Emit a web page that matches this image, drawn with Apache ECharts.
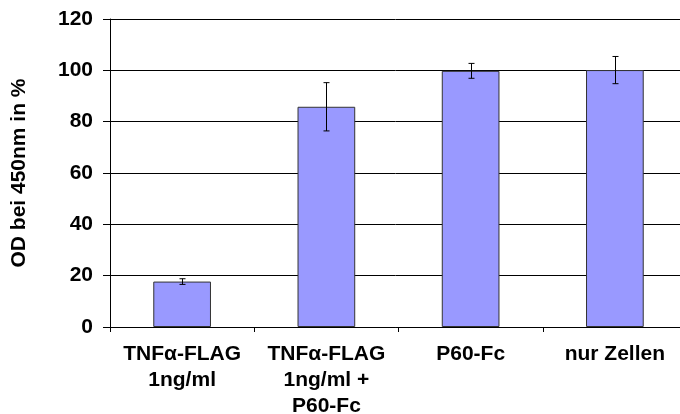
<!DOCTYPE html>
<html>
<head>
<meta charset="utf-8">
<script src="https://cdn.jsdelivr.net/npm/echarts@6/dist/echarts.min.js"></script>
<style>html,body{margin:0;padding:0;background:#fff}#c{width:680px;height:414px}</style>
</head>
<body>
<div id="c"></div>
<script>
var categories = ['TNF\u03b1-FLAG\n1ng/ml', 'TNF\u03b1-FLAG\n1ng/ml +\nP60-Fc', 'P60-Fc', 'nur Zellen'];
var values = [17.7, 85.8, 99.8, 100.1];
var errors = [1.1, 9.4, 2.9, 5.3];
var yTicks = [0, 20, 40, 60, 80, 100, 120];

var font = 'Liberation Sans, Arial, sans-serif';
var chart = echarts.init(document.getElementById('c'));
chart.setOption({
  animation: false,
  grid: { left: 110, top: 19, width: 577, bottom: 87, outerBoundsMode: 'none', containLabel: false },
  xAxis: {
    type: 'category',
    data: categories,
    axisLine: { lineStyle: { color: '#000', width: 1 } },
    axisTick: { show: true, length: 5, lineStyle: { color: '#000' }, alignWithLabel: false },
    axisLabel: { color: '#000', fontFamily: font, fontWeight: 'bold', fontSize: 21, lineHeight: 26, margin: 14, interval: 0 }
  },
  yAxis: {
    type: 'value',
    min: yTicks[0], max: yTicks[yTicks.length - 1], interval: 20,
    name: 'OD bei 450nm in %',
    nameLocation: 'middle',
    nameGap: 80,
    nameTextStyle: { color: '#000', fontFamily: font, fontWeight: 'bold', fontSize: 21 },
    axisLine: { show: true, lineStyle: { color: '#000', width: 1 } },
    axisTick: { show: true, length: 7, lineStyle: { color: '#000' } },
    axisLabel: { color: '#000', fontFamily: font, fontWeight: 'bold', fontSize: 21, margin: 17 },
    splitLine: { show: true, lineStyle: { color: '#000', width: 1 } }
  },
  series: [
    {
      type: 'bar',
      data: values,
      barWidth: '40%',
      itemStyle: { color: '#9999FF', borderColor: '#333', borderWidth: 1 }
    },
    {
      type: 'custom',
      data: values.map(function (v, i) { return [i, v - errors[i], v + errors[i]]; }),
      renderItem: function (params, api) {
        var lo = api.coord([api.value(0), api.value(1)]);
        var hi = api.coord([api.value(0), api.value(2)]);
        var x = Math.round(lo[0]) + 0.5;
        var cap = 3;
        var st = { stroke: '#000', lineWidth: 1 };
        return {
          type: 'group',
          children: [
            { type: 'line', shape: { x1: x, y1: hi[1], x2: x, y2: lo[1] }, style: st },
            { type: 'line', shape: { x1: x - cap, y1: hi[1], x2: x + cap, y2: hi[1] }, style: st },
            { type: 'line', shape: { x1: x - cap, y1: lo[1], x2: x + cap, y2: lo[1] }, style: st }
          ]
        };
      },
      z: 10
    }
  ]
});
</script>
</body>
</html>
